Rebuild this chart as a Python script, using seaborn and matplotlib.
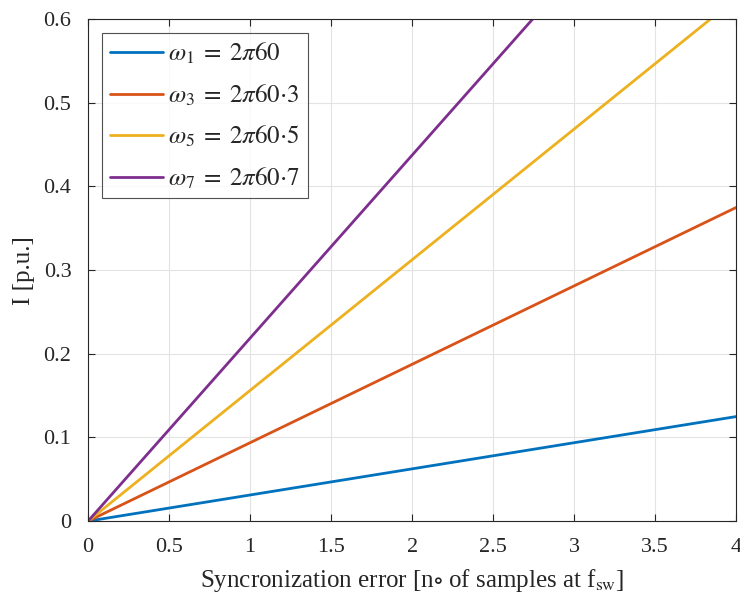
import numpy as np
import pandas as pd
import seaborn as sns
import matplotlib
matplotlib.use("Agg")
import matplotlib.pyplot as plt

# Synchronization error (samples at f_sw) and resulting current error per harmonic
sync_error = [0.0, 4.0]
i_w1 = [0.0, 0.125]
i_w3 = [0.0, 0.375]
i_w5 = [0.0, 0.625]
i_w7 = [0.0, 0.875]
labels = [r"$\omega_1\;=\;2\pi60$",
          r"$\omega_3\;=\;2\pi60{\cdot}3$",
          r"$\omega_5\;=\;2\pi60{\cdot}5$",
          r"$\omega_7\;=\;2\pi60{\cdot}7$"]
colors = ["#0072BD", "#D95319", "#EDB120", "#7E2F8E"]
x_ticks = [0, 0.5, 1, 1.5, 2, 2.5, 3, 3.5, 4]
y_ticks = [0, 0.1, 0.2, 0.3, 0.4, 0.5, 0.6]

sns.set_theme(style="white")
plt.rcParams["font.family"] = ["Liberation Serif", "DejaVu Serif"]
plt.rcParams["mathtext.fontset"] = "stix"

frames = []
for lab, ys in zip(labels, [i_w1, i_w3, i_w5, i_w7]):
    frames.append(pd.DataFrame({"x": sync_error, "y": ys, "series": lab}))
df = pd.concat(frames, ignore_index=True)

fig = plt.figure(figsize=(7.40, 5.99), dpi=100)
ax = fig.add_axes([0.119, 0.130, 0.876, 0.838])

sns.lineplot(data=df, x="x", y="y", hue="series", palette=colors,
             linewidth=2.0, ax=ax, legend=True)

ax.set_xlim(0, 4)
ax.set_ylim(0, 0.6)
ax.set_xticks(x_ticks)
ax.set_xticklabels([f"{t:g}" for t in x_ticks])
ax.set_yticks(y_ticks)
ax.set_yticklabels([f"{t:g}" for t in y_ticks])
ax.grid(True, color="#e3e3e3", linewidth=0.8)
ax.set_axisbelow(True)
for s in ax.spines.values():
    s.set_color("#262626")
    s.set_linewidth(0.8)
ax.tick_params(direction="in", length=5, width=0.8, color="#262626",
               labelsize=16, labelcolor="#262626", top=True, right=True,
               bottom=True, left=True, pad=12)

ax.set_xlabel(r"Syncronization error [n$\circ$ of samples at f$_{\mathrm{sw}}$]",
              fontsize=18, color="#262626", labelpad=7)
ax.set_ylabel("I [p.u.]", fontsize=18, color="#262626", labelpad=6)

leg = ax.legend(loc="upper left", bbox_to_anchor=(0.0216, 0.972), borderaxespad=0,
                fontsize=18, frameon=True, fancybox=False, edgecolor="#262626",
                handlelength=2.15, handletextpad=0.2, labelspacing=0.65,
                borderpad=0.3, title=None)
leg.get_frame().set_linewidth(0.8)

fig.savefig("out.png", dpi=100)
